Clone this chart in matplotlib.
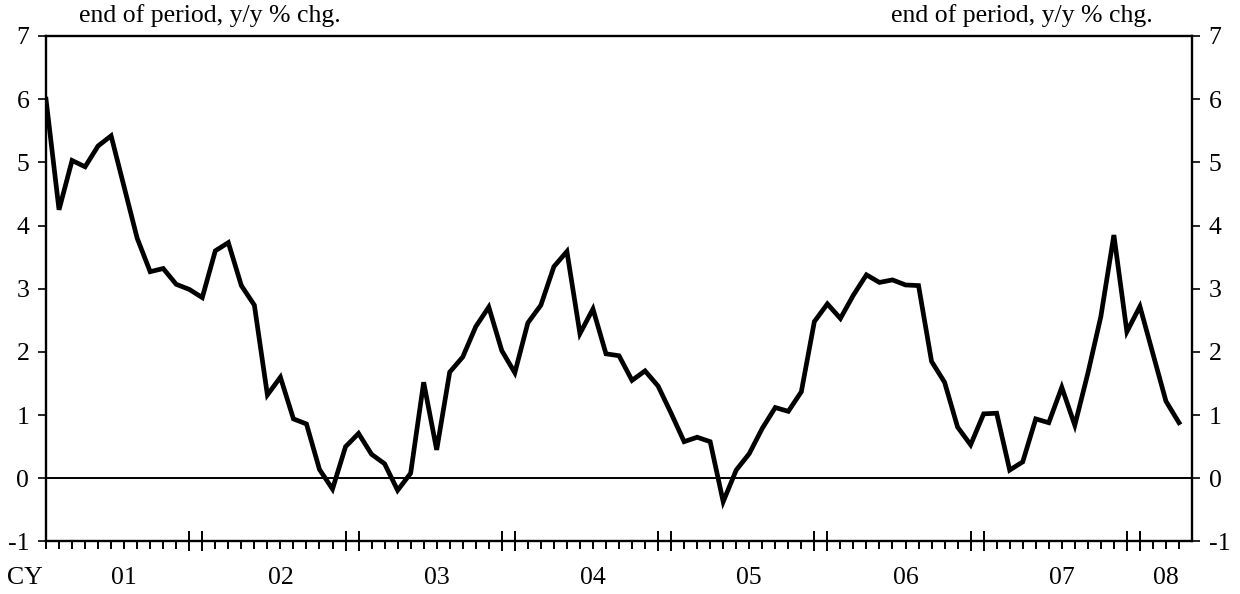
import matplotlib
matplotlib.use("Agg")
import matplotlib.pyplot as plt
import numpy as np
from matplotlib.ticker import FixedLocator, NullFormatter

# Data: monthly, end of period y/y % chg., Jan 2001 - Apr 2008
values = np.array([
    6.00, 4.25, 5.03, 4.93, 5.26, 5.42, 4.61, 3.80, 3.27, 3.32, 3.07, 2.99,
    2.86, 3.60, 3.73, 3.05, 2.74, 1.32, 1.60, 0.94, 0.86, 0.14, -0.17, 0.50,
    0.71, 0.38, 0.23, -0.19, 0.08, 1.52, 0.45, 1.68, 1.92, 2.40, 2.71, 2.02,
    1.67, 2.46, 2.74, 3.35, 3.59, 2.29, 2.68, 1.97, 1.94, 1.55, 1.70, 1.46,
    1.03, 0.58, 0.65, 0.58, -0.37, 0.13, 0.39, 0.79, 1.12, 1.06, 1.37, 2.48,
    2.76, 2.53, 2.90, 3.22, 3.10, 3.14, 3.06, 3.05, 1.85, 1.52, 0.81, 0.53,
    1.02, 1.03, 0.13, 0.26, 0.94, 0.88, 1.44, 0.84, 1.66, 2.56, 3.85, 2.32,
    2.72, 1.97, 1.22, 0.88,
])
year_labels = ["01", "02", "03", "04", "05", "06", "07", "08"]
y_ticks = [-1, 0, 1, 2, 3, 4, 5, 6, 7]
unit_label = "end of period, y/y % chg."

months = np.arange(len(values))
n = len(values)
fs = 18.5

plt.rcParams["font.family"] = ["Liberation Serif", "DejaVu Serif"]

fig = plt.figure(figsize=(12.4, 5.94), dpi=100)
ax = fig.add_axes([0.0371, 0.0884, 0.9242, 0.851])

ax.axhline(0, color="black", lw=1.4, zorder=1)
ax.plot(months, values, color="black", lw=3.4, solid_joinstyle="miter", zorder=3)

ax.set_xlim(0, n)
ax.set_ylim(-1, 7)

for side in ["left", "right", "top", "bottom"]:
    ax.spines[side].set_linewidth(1.7)

# y axis on both sides
ax.set_yticks(y_ticks)
ax.set_yticklabels([str(t) for t in y_ticks])
ax.tick_params(axis="y", which="major", direction="out", length=6, width=1.2,
               labelsize=fs, pad=6, left=True, right=True,
               labelleft=True, labelright=True)

# x axis: small monthly ticks, tall double ticks around each year change
year_marks = []
for k in range(12, n, 12):
    year_marks += [k - 1, k]
ax.xaxis.set_major_locator(FixedLocator(year_marks))
ax.xaxis.set_minor_locator(FixedLocator(months))
ax.xaxis.set_major_formatter(NullFormatter())
ax.tick_params(axis="x", which="major", direction="inout", length=15, width=1.4)
ax.tick_params(axis="x", which="minor", direction="out", length=5.5, width=1.4)

# year labels centred on each year's span
label_y = 1 - 578 / 594
for i, lab in enumerate(year_labels):
    start = 12 * i
    end = min(12 * (i + 1), n)
    xd = ax.transData.transform(((start + end) / 2, 0))[0]
    xf = fig.transFigure.inverted().transform((xd, 0))[0]
    fig.text(xf, label_y, lab, ha="center", va="center", fontsize=fs)
fig.text(25 / 1240, label_y, "CY", ha="center", va="center", fontsize=fs)

fig.text(210 / 1240, 1 - 16 / 594, unit_label, ha="center", va="center", fontsize=fs)
fig.text(1022 / 1240, 1 - 16 / 594, unit_label, ha="center", va="center", fontsize=fs)

fig.savefig("out.png", dpi=100)
